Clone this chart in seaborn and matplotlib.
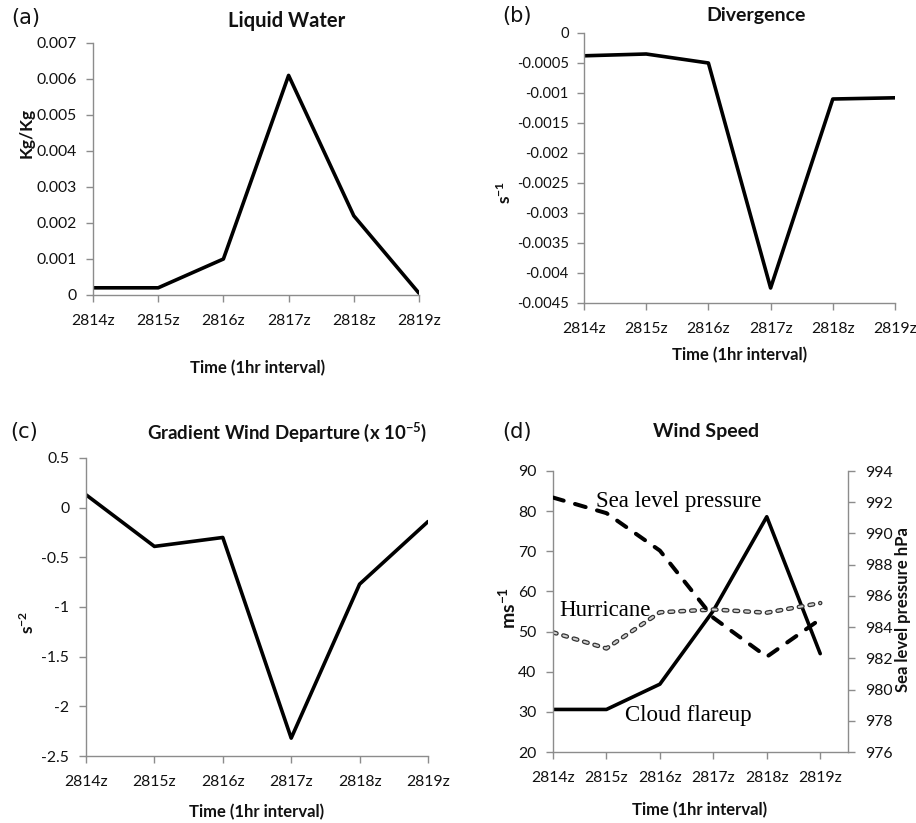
import matplotlib
matplotlib.use("Agg")
import matplotlib.pyplot as plt
from matplotlib.ticker import FuncFormatter, MultipleLocator
import seaborn as sns
import pandas as pd

# ---- data ----
hours = ["2814z", "2815z", "2816z", "2817z", "2818z", "2819z"]
liquid_water = [0.0002, 0.0002, 0.001, 0.0061, 0.0022, 0.00005]
divergence = [-0.00038, -0.00035, -0.0005, -0.00425, -0.0011, -0.00108]
gradient_wind_dep = [0.13, -0.39, -0.30, -2.32, -0.77, -0.14]
cloud_flareup = [30.6, 30.6, 36.9, 55.2, 78.6, 44.5]
hurricane = [49.8, 45.8, 54.8, 55.5, 54.7, 57.1]
sea_level_pressure = [992.3, 991.3, 988.9, 984.6, 982.1, 984.5]

sns.set_theme(style="ticks")
plt.rcParams["font.family"] = ["Lato", "DejaVu Sans"]
plt.rcParams["mathtext.default"] = "regular"
plt.rcParams["lines.scale_dashes"] = False

W, H = 916, 823
fig = plt.figure(figsize=(W / 100, H / 100), dpi=100)

def rect(l, r, t, b):
    return [l / W, 1 - b / H, (r - l) / W, (b - t) / H]

def ftext(x, y, s, **kw):
    fig.text(x / W, 1 - y / H, s, ha=kw.pop("ha", "center"),
             va=kw.pop("va", "center"), **kw)

SPINE = "#8c8c8c"
TXT = "#111111"
TICK_FS = 11.3
LW = 2.6

def fmt(v, p):
    if abs(v) < 1e-12:
        return "0"
    return "%g" % round(v, 6)

def style_axis(ax, ysize=TICK_FS, ypad=7):
    for s in ("top", "right"):
        ax.spines[s].set_visible(False)
    for s in ("left", "bottom"):
        ax.spines[s].set_color(SPINE)
        ax.spines[s].set_linewidth(1.0)
    ax.tick_params(axis="both", colors=SPINE, labelcolor=TXT,
                   labelsize=TICK_FS, length=5, width=1.0, direction="out")
    ax.tick_params(axis="x", pad=8.5)
    ax.tick_params(axis="y", pad=ypad, labelsize=ysize)
    ax.set_xlabel("")
    ax.set_ylabel("")
    ax.yaxis.set_major_formatter(FuncFormatter(fmt))

def series(ax, y, **kw):
    df = pd.DataFrame({"t": hours, "v": y})
    sns.lineplot(data=df, x="t", y="v", ax=ax, sort=False, **kw)

# ---- (a) Liquid Water ----
ax_a = fig.add_axes(rect(93, 419, 43, 295))
series(ax_a, liquid_water, color="black", lw=LW)
ax_a.set_xlim(0, 5)
ax_a.set_ylim(0, 0.007)
ax_a.yaxis.set_major_locator(MultipleLocator(0.001))
style_axis(ax_a)
ftext(26, 18, "(a)", family="DejaVu Sans", fontsize=15, color=TXT)
ftext(287, 21, "Liquid Water", fontsize=14.5, weight="bold", color=TXT)
ftext(258, 368, "Time (1hr interval)", fontsize=12, weight="bold", color=TXT)
ftext(27, 133, "Kg/Kg", fontsize=12.5, weight="bold", rotation=90, color=TXT)

# ---- (b) Divergence ----
ax_b = fig.add_axes(rect(584, 895, 33, 303))
series(ax_b, divergence, color="black", lw=LW)
ax_b.set_xlim(0, 5)
ax_b.set_ylim(-0.0045, 0)
ax_b.yaxis.set_major_locator(MultipleLocator(0.0005))
style_axis(ax_b, ysize=10.6, ypad=6)
ftext(517, 16, "(b)", family="DejaVu Sans", fontsize=15, color=TXT)
ftext(756, 15, "Divergence", fontsize=14, weight="bold", color=TXT)
ftext(740, 355, "Time (1hr interval)", fontsize=12, weight="bold", color=TXT)
ftext(505, 192, "s$^{-1}$", fontsize=12.5, weight="bold", rotation=90, color=TXT)

# ---- (c) Gradient Wind Departure ----
ax_c = fig.add_axes(rect(86, 428, 458, 756))
series(ax_c, gradient_wind_dep, color="black", lw=LW)
ax_c.set_xlim(0, 5)
ax_c.set_ylim(-2.5, 0.5)
ax_c.yaxis.set_major_locator(MultipleLocator(0.5))
style_axis(ax_c)
ftext(24, 432, "(c)", family="DejaVu Sans", fontsize=15, color=TXT)
ftext(287, 432, "Gradient Wind Departure (x 10$^{-5}$)", fontsize=13.4,
      weight="bold", color=TXT)
ftext(257, 812, "Time (1hr interval)", fontsize=12, weight="bold", color=TXT)
ftext(28, 622, "s$^{-2}$", fontsize=12.5, weight="bold", rotation=90, color=TXT)

# ---- (d) Wind Speed with sea level pressure ----
ax_d = fig.add_axes(rect(553, 848, 471, 752))
series(ax_d, cloud_flareup, color="black", lw=LW)
series(ax_d, hurricane, color="#333333", lw=3.3, dashes=False,
       linestyle=(0, (2.6, 5.2)), dash_capstyle="round")
series(ax_d, hurricane, color="#d0d0d0", lw=1.5, dashes=False,
       linestyle=(0, (2.6, 5.2)), dash_capstyle="round")
ax_d.set_xlim(0, 5.52)
ax_d.set_ylim(20, 90)
ax_d.yaxis.set_major_locator(MultipleLocator(10))
style_axis(ax_d)

ax_d2 = ax_d.twinx()
series(ax_d2, sea_level_pressure, color="black", lw=2.9, dashes=False,
       linestyle=(0, (8.0, 8.5)), dash_capstyle="round")
ax_d2.set_ylim(976, 994)
ax_d2.yaxis.set_major_locator(MultipleLocator(2))
for s in ("top", "left", "bottom"):
    ax_d2.spines[s].set_visible(False)
ax_d2.spines["right"].set_color(SPINE)
ax_d2.spines["right"].set_linewidth(1.0)
ax_d2.tick_params(axis="y", colors=SPINE, labelcolor=TXT, labelsize=TICK_FS,
                  length=5, width=1.0, direction="out", pad=7)
ax_d2.set_ylabel("")
ax_d2.yaxis.set_major_formatter(FuncFormatter(fmt))

ftext(517, 432, "(d)", family="DejaVu Sans", fontsize=15, color=TXT)
ftext(706, 432, "Wind Speed", fontsize=14, weight="bold", color=TXT)
ftext(700, 810, "Time (1hr interval)", fontsize=12, weight="bold", color=TXT)
ftext(508, 608, "ms$^{-1}$", fontsize=14, weight="bold", rotation=90, color=TXT)
ftext(903, 610, "Sea level pressure hPa", fontsize=12, weight="bold",
      rotation=90, color=TXT)

serif = dict(family="Liberation Serif", fontsize=16.5, color="black")
ftext(679, 501, "Sea level pressure", **serif)
ftext(605, 610, "Hurricane", **serif)
ftext(688, 716, "Cloud flareup", **serif)

fig.savefig("out.png", dpi=100, facecolor="white")
